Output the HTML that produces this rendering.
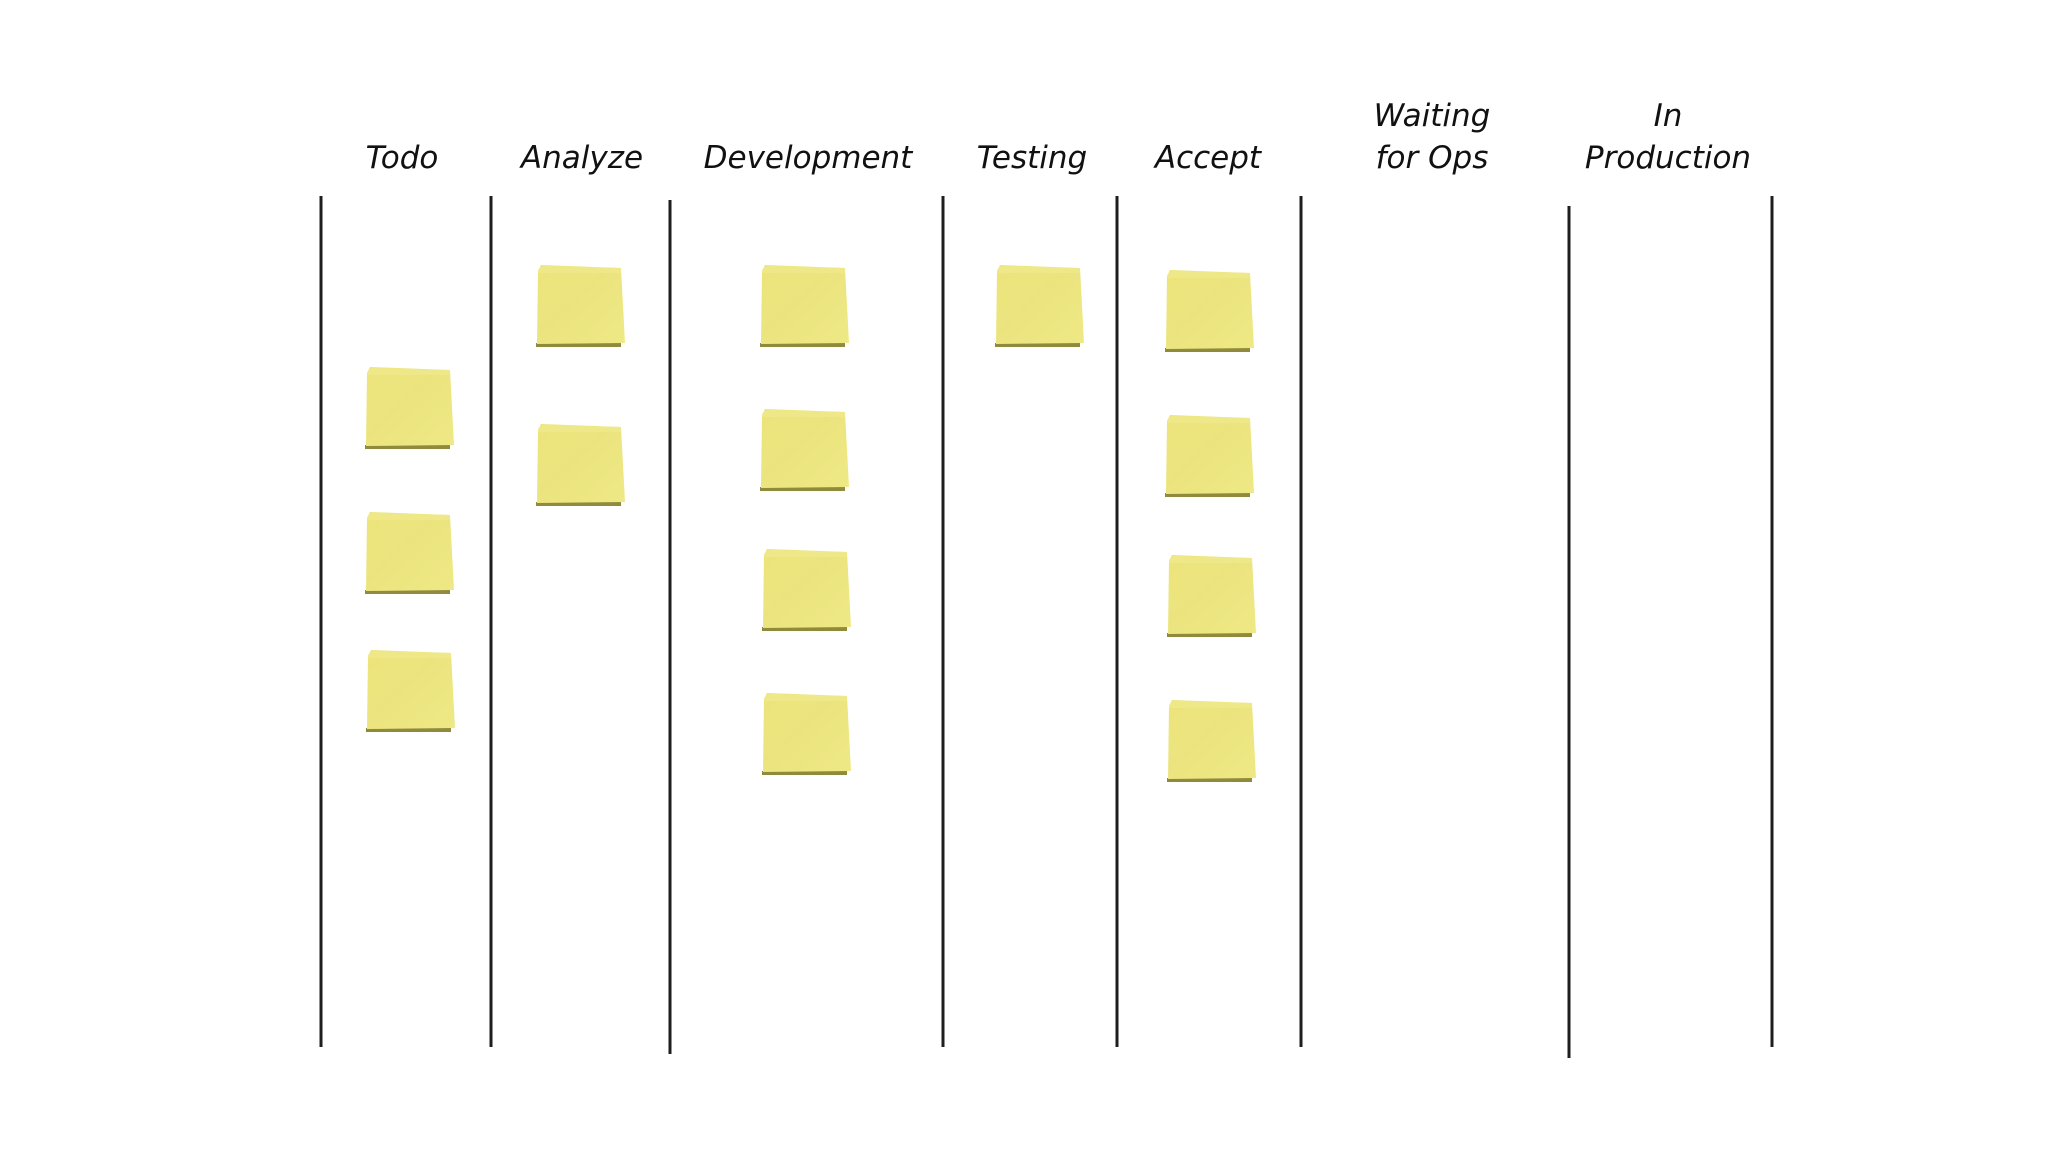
<!DOCTYPE html>
<html><head><meta charset="utf-8"><style>
html,body{margin:0;padding:0;background:#fff;}
svg{display:block;}
.h{font-family:"DejaVu Sans","Liberation Sans",sans-serif;font-size:31px;fill:#111;text-anchor:middle;font-style:italic;}
</style></head><body>
<svg width="2048" height="1152" viewBox="0 0 2048 1152">
<defs>
<linearGradient id="g" x1="0" y1="0" x2="1" y2="1">
<stop offset="0" stop-color="#ede47a"/><stop offset="0.5" stop-color="#ebe47f"/><stop offset="1" stop-color="#efe985"/>
</linearGradient>
</defs>
<g stroke="#1e1e1e" stroke-width="3" fill="none">
<line x1="321" y1="196" x2="321" y2="1047"/>
<line x1="491" y1="196" x2="491" y2="1047"/>
<line x1="670" y1="200" x2="670" y2="1054"/>
<line x1="943" y1="196" x2="943" y2="1047"/>
<line x1="1117" y1="196" x2="1117" y2="1047"/>
<line x1="1301" y1="196" x2="1301" y2="1047"/>
<line x1="1569" y1="206" x2="1569" y2="1058"/>
<line x1="1772" y1="196" x2="1772" y2="1047"/>
</g>
<g>
<text class="h" x="402" y="168">Todo</text>
<text class="h" x="582" y="168">Analyze</text>
<text class="h" x="808" y="168">Development</text>
<text class="h" x="1032" y="168">Testing</text>
<text class="h" x="1208" y="168">Accept</text>
<text class="h" x="1432" y="126">Waiting<tspan x="1432" y="168">for Ops</tspan></text>
<text class="h" x="1668" y="126">In<tspan x="1668" y="168">Production</tspan></text>
</g>
<g id="notes"></g>
</svg>
<script>
const notes=[[366,367],[366,512],[367,650],[537,265],[537,424],[761,265],[761,409],[763,549],[763,693],[996,265],[1166,270],[1166,415],[1168,555],[1168,700]];
const ns="http://www.w3.org/2000/svg";
const g=document.getElementById('notes');
notes.forEach(([x,y],i)=>{
  const grp=document.createElementNS(ns,'g');
  
  
  const sh=document.createElementNS(ns,'polygon');
  sh.setAttribute('points',`${x-1},${y+78} ${x+84},${y+78} ${x+84},${y+82} ${x-1},${y+82}`);
  sh.setAttribute('fill','#8f8a3c');
  grp.appendChild(sh);
  const p=document.createElementNS(ns,'polygon');
  p.setAttribute('points',`${x+4},${y} ${x+84},${y+3} ${x+88},${y+78} ${x},${y+79} ${x+1},${y+6}`);
  p.setAttribute('fill','url(#g)');
  grp.appendChild(p);
  const c=document.createElementNS(ns,'path');
  c.setAttribute('d',`M${x+1},${y+6} Q${x+3},${y} ${x+10},${y+1} L${x+84},${y+3} L${x+84},${y+8} L${x+1},${y+8} Z`);
  c.setAttribute('fill','#efe888');
  grp.appendChild(c);
  g.appendChild(grp);
});
</script>
</body></html>
